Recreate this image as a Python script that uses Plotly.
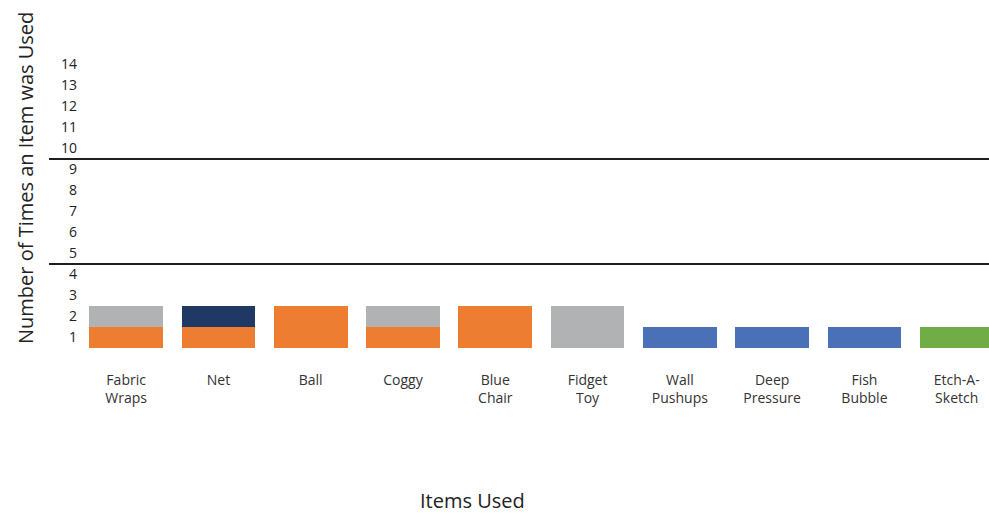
import plotly.graph_objects as go

# Items and how many times each one was used, split by colour group
items = ["Fabric<br>Wraps", "Net", "Ball", "Coggy", "Blue<br>Chair", "Fidget<br>Toy",
         "Wall<br>Pushups", "Deep<br>Pressure", "Fish<br>Bubble", "Etch-A-<br>Sketch"]
orange_uses = [1, 1, 2, 1, 2, 0, 0, 0, 0, 0]
gray_uses = [1, 0, 0, 1, 0, 2, 0, 0, 0, 0]
navy_uses = [0, 1, 0, 0, 0, 0, 0, 0, 0, 0]
blue_uses = [0, 0, 0, 0, 0, 0, 1, 1, 1, 0]
green_uses = [0, 0, 0, 0, 0, 0, 0, 0, 0, 1]

# y tick labels sit in the middle of each unit band
tick_labels = [str(i) for i in range(1, 15)]
tick_positions = [i - 0.5 for i in range(1, 15)]
# divider lines across the chart
divider_levels = [4, 9]

series = [
    (orange_uses, "#ED7D31"),
    (gray_uses, "#B1B2B4"),
    (navy_uses, "#203864"),
    (blue_uses, "#4A70B8"),
    (green_uses, "#70AD47"),
]

W, H = 989, 516
ml, mr, mt, mb = 80, 0, 10, 168

fig = go.Figure()
for vals, color in series:
    fig.add_trace(go.Bar(x=list(range(len(items))), y=vals, marker_color=color,
                         marker_line_width=0, showlegend=False))

font_family = "Open Sans, Lato, sans-serif"

fig.update_layout(
    width=W, height=H,
    margin=dict(l=ml, r=mr, t=mt, b=mb, autoexpand=False),
    barmode="stack", bargap=0.2,
    plot_bgcolor="white", paper_bgcolor="white",
    font=dict(family=font_family, color="#333333"),
    xaxis=dict(
        range=[-0.5, 9.35], tickmode="array", tickvals=list(range(len(items))),
        ticktext=items, showgrid=False, zeroline=False, showline=False, ticks="",
        tickfont=dict(size=14, color="#333333"), ticklabelstandoff=22,
    ),
    yaxis=dict(
        range=[0, (H - mt - mb) / 21], tickmode="array", tickvals=tick_positions,
        ticktext=tick_labels, showgrid=False, zeroline=False, showline=False, ticks="",
        tickfont=dict(size=14, color="#222222"), ticklabelstandoff=2,
    ),
)

for lvl in divider_levels:
    fig.add_shape(type="line", xref="paper", yref="y",
                  x0=(49 - ml) / (W - ml - mr), x1=1, y0=lvl, y1=lvl,
                  line=dict(color="#1E1E1E", width=2), layer="above")

fig.add_annotation(text="Items Used", xref="paper", yref="paper",
                   x=(472 - ml) / (W - ml - mr), y=-(500 - (H - mb)) / (H - mt - mb),
                   xanchor="center", yanchor="middle", showarrow=False,
                   font=dict(size=20, color="#222222", family=font_family))
fig.add_annotation(text="Number of Times an Item was Used", xref="paper", yref="paper",
                   x=(25 - ml) / (W - ml - mr), y=1 - (178 - mt) / (H - mt - mb),
                   xanchor="center", yanchor="middle", textangle=-90, showarrow=False,
                   font=dict(size=20, color="#222222", family=font_family))

fig.write_html("out.html")
